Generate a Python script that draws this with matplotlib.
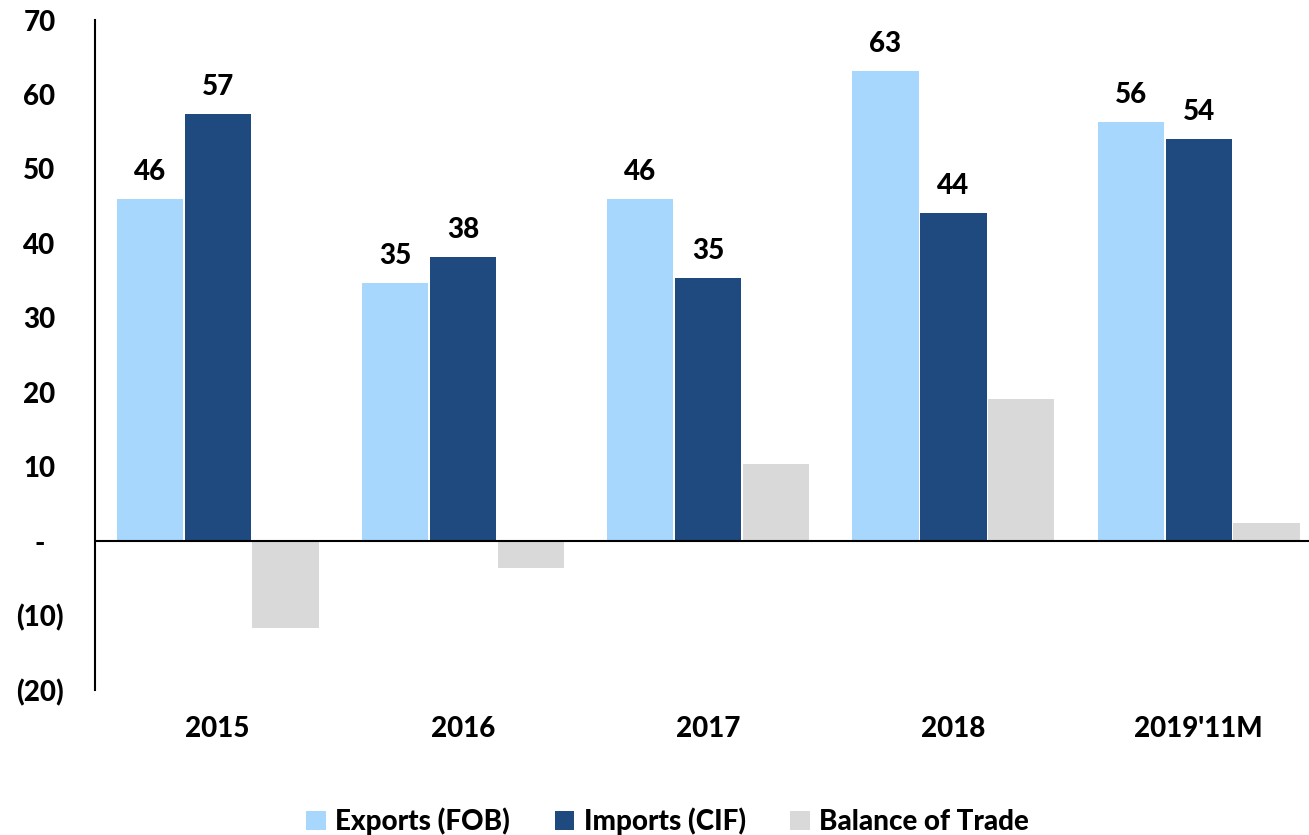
import matplotlib
matplotlib.use("Agg")
import matplotlib.pyplot as plt
import numpy as np

# --- data ---
years = ["2015", "2016", "2017", "2018", "2019'11M"]
exports = [46.0, 34.7, 46.0, 63.2, 56.3]
imports = [57.4, 38.2, 35.4, 44.1, 54.0]
balance = [-11.7, -3.6, 10.3, 19.1, 2.4]

y_ticks = [-20, -10, 0, 10, 20, 30, 40, 50, 60, 70]
y_labels = ["(20)", "(10)", "-", "10", "20", "30", "40", "50", "60", "70"]

c_exp = "#A7D7FD"
c_imp = "#1E4A80"
c_bal = "#D9D9D9"

plt.rcParams["font.family"] = ["Lato", "DejaVu Sans"]
plt.rcParams["font.weight"] = "black"
FW = "black"

fig = plt.figure(figsize=(13.09, 8.35), dpi=100)
ax = fig.add_axes([0.0726, 0.1737, 0.9274, 0.8023])

x = np.arange(len(years))
w = 0.27
step = 0.277

b1 = ax.bar(x - step, exports, w, color=c_exp, label="Exports (FOB)")
b2 = ax.bar(x, imports, w, color=c_imp, label="Imports (CIF)")
b3 = ax.bar(x + step, balance, w, color=c_bal, label="Balance of Trade")

# value labels on exports / imports only
for bars, vals in [(b1, exports), (b2, imports)]:
    for rect, v in zip(bars, vals):
        ax.annotate(f"{v:.0f}", (rect.get_x() + rect.get_width() / 2, v),
                    xytext=(0, 10), textcoords="offset points",
                    ha="center", va="bottom", fontsize=20, fontweight=FW)

ax.axhline(0, color="black", lw=1.5, zorder=3)

ax.set_xlim(-0.5, 4.45)
ax.set_ylim(-20, 70)
ax.set_yticks(y_ticks)
ax.set_yticklabels(y_labels)
ax.set_xticks(x)
ax.set_xticklabels(years)

for s in ["top", "right", "bottom"]:
    ax.spines[s].set_visible(False)
ax.spines["left"].set_linewidth(1.5)

ax.tick_params(axis="x", length=0, pad=19, labelsize=20)
ax.tick_params(axis="y", length=0, pad=40, labelsize=20)
for t in ax.get_yticklabels():
    t.set_horizontalalignment("center")
    t.set_fontweight(FW)
for t in ax.get_xticklabels():
    t.set_fontweight(FW)

fig.legend(loc="lower center", bbox_to_anchor=(0.51, -0.03), ncol=3,
           frameon=False, handlelength=0.7, handleheight=0.7,
           handletextpad=0.35, columnspacing=1.6,
           prop={"weight": FW, "size": 20})

fig.savefig("out.png", dpi=100)
